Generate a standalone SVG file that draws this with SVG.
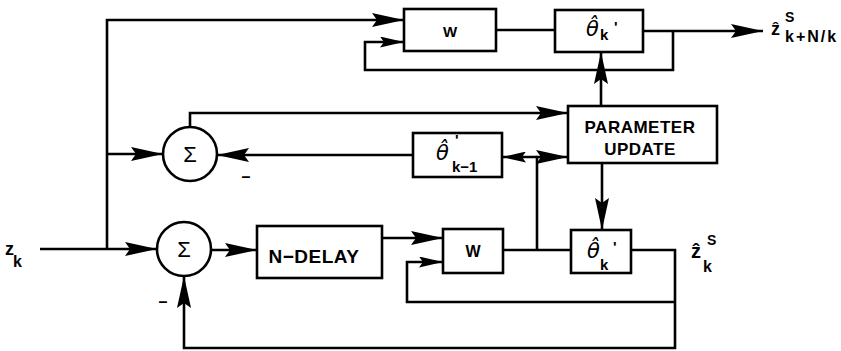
<svg xmlns="http://www.w3.org/2000/svg" width="841" height="351" viewBox="0 0 841 351">
<style>
.box{fill:#fff;stroke:#000;stroke-width:2.6}
.ln{fill:none;stroke:#000;stroke-width:2.6}
.t{font-family:"Liberation Sans",Arial,sans-serif;font-weight:bold;fill:#000}
.th{font-family:"DejaVu Sans",sans-serif;font-style:italic;fill:#000}
.sg{font-family:"Liberation Sans",Arial,sans-serif;fill:#000}
</style>
<defs>
<marker id="a" markerUnits="userSpaceOnUse" markerWidth="32" markerHeight="14" refX="32" refY="7" orient="auto">
<path d="M0,0 L32,7 L0,14 L5,7 z" fill="#000"/>
</marker>
<marker id="s" markerUnits="userSpaceOnUse" markerWidth="24" markerHeight="11" refX="24" refY="5.5" orient="auto">
<path d="M0,0 L24,5.5 L0,11 L4,5.5 z" fill="#000"/>
</marker>
</defs>
<rect width="841" height="351" fill="#fff"/>
<g id="connectors">
<path class="ln" d="M40,249 H157" marker-end="url(#a)"/>
<path class="ln" d="M107,249 V20 H404" marker-end="url(#a)"/>
<path class="ln" d="M107,154 H163" marker-end="url(#a)"/>
<path class="ln" d="M190,127 V113 H568" marker-end="url(#a)"/>
<path class="ln" d="M413,155 H217" marker-end="url(#a)"/>
<path class="ln" d="M496,30 H555"/>
<path class="ln" d="M643,31 H763" marker-end="url(#a)"/>
<path class="ln" d="M673,31 V70 H365 V42 H404" marker-end="url(#s)"/>
<path class="ln" d="M601,106 V52" marker-end="url(#a)"/>
<path class="ln" d="M602,163 V230" marker-end="url(#a)"/>
<path class="ln" d="M537,250 V157 H568" marker-end="url(#a)"/>
<path class="ln" d="M537,157 H502" marker-end="url(#s)"/>
<path class="ln" d="M211,250 H257" marker-end="url(#a)"/>
<path class="ln" d="M382,238 H443" marker-end="url(#a)"/>
<path class="ln" d="M503,250 H571"/>
<path class="ln" d="M631,250 H675 V348 H184 V276" marker-end="url(#a)"/>
<path class="ln" d="M675,302 H407 V262 H443" marker-end="url(#s)"/>
</g>
<g id="sum1">
<circle class="box" cx="190" cy="154" r="27"/>
<text class="sg" x="190" y="162" font-size="22" text-anchor="middle">Σ</text>
<text class="t" x="246" y="182" font-size="16" text-anchor="middle">–</text>
</g>
<g id="sum2">
<circle class="box" cx="184" cy="249" r="27"/>
<text class="sg" x="184" y="257" font-size="22" text-anchor="middle">Σ</text>
<text class="t" x="163" y="307" font-size="16" text-anchor="middle">–</text>
</g>
<g id="w1">
<rect class="box" x="404" y="9" width="92" height="42"/>
<text class="t" x="450" y="37" font-size="15" text-anchor="middle">W</text>
</g>
<g id="theta1">
<rect class="box" x="555" y="10" width="88" height="42"/>
<text class="th" x="586" y="36" font-size="21">θ̂</text>
<text class="t" x="600" y="40" font-size="15">k</text>
<text class="t" x="614" y="32" font-size="15">'</text>
</g>
<g id="pu">
<rect class="box" x="568" y="106" width="149" height="57"/>
<text class="t" x="640" y="133" font-size="17" text-anchor="middle" letter-spacing="0.5">PARAMETER</text>
<text class="t" x="640" y="155" font-size="17" text-anchor="middle" letter-spacing="0.5">UPDATE</text>
</g>
<g id="theta0">
<rect class="box" x="413" y="133" width="89" height="44"/>
<text class="th" x="436" y="160" font-size="21">θ̂</text>
<text class="t" x="455" y="145" font-size="15">'</text>
<text class="t" x="452" y="172" font-size="15">k−1</text>
</g>
<g id="ndelay">
<rect class="box" x="257" y="226" width="125" height="52"/>
<text class="t" x="314" y="263" font-size="19" text-anchor="middle" letter-spacing="0.5">N−DELAY</text>
</g>
<g id="w2">
<rect class="box" x="443" y="229" width="60" height="44"/>
<text class="t" x="473" y="257" font-size="16" text-anchor="middle">W</text>
</g>
<g id="theta2">
<rect class="box" x="571" y="230" width="60" height="43"/>
<text class="th" x="587" y="258" font-size="21">θ̂</text>
<text class="t" x="600" y="270" font-size="15">k</text>
<text class="t" x="613" y="252" font-size="15">'</text>
</g>
<g id="labels">
<text class="t" x="5" y="255" font-size="18">z</text>
<text class="t" x="13" y="267" font-size="16">k</text>
<text class="t" x="771" y="35" font-size="18">ẑ</text>
<text class="t" x="785" y="22" font-size="14">S</text>
<text class="t" x="785" y="42" font-size="16" letter-spacing="2">k+N/k</text>
<text class="t" x="691" y="258" font-size="20">ẑ</text>
<text class="t" x="707" y="245" font-size="14">S</text>
<text class="t" x="703" y="272" font-size="16">k</text>
</g>
</svg>
